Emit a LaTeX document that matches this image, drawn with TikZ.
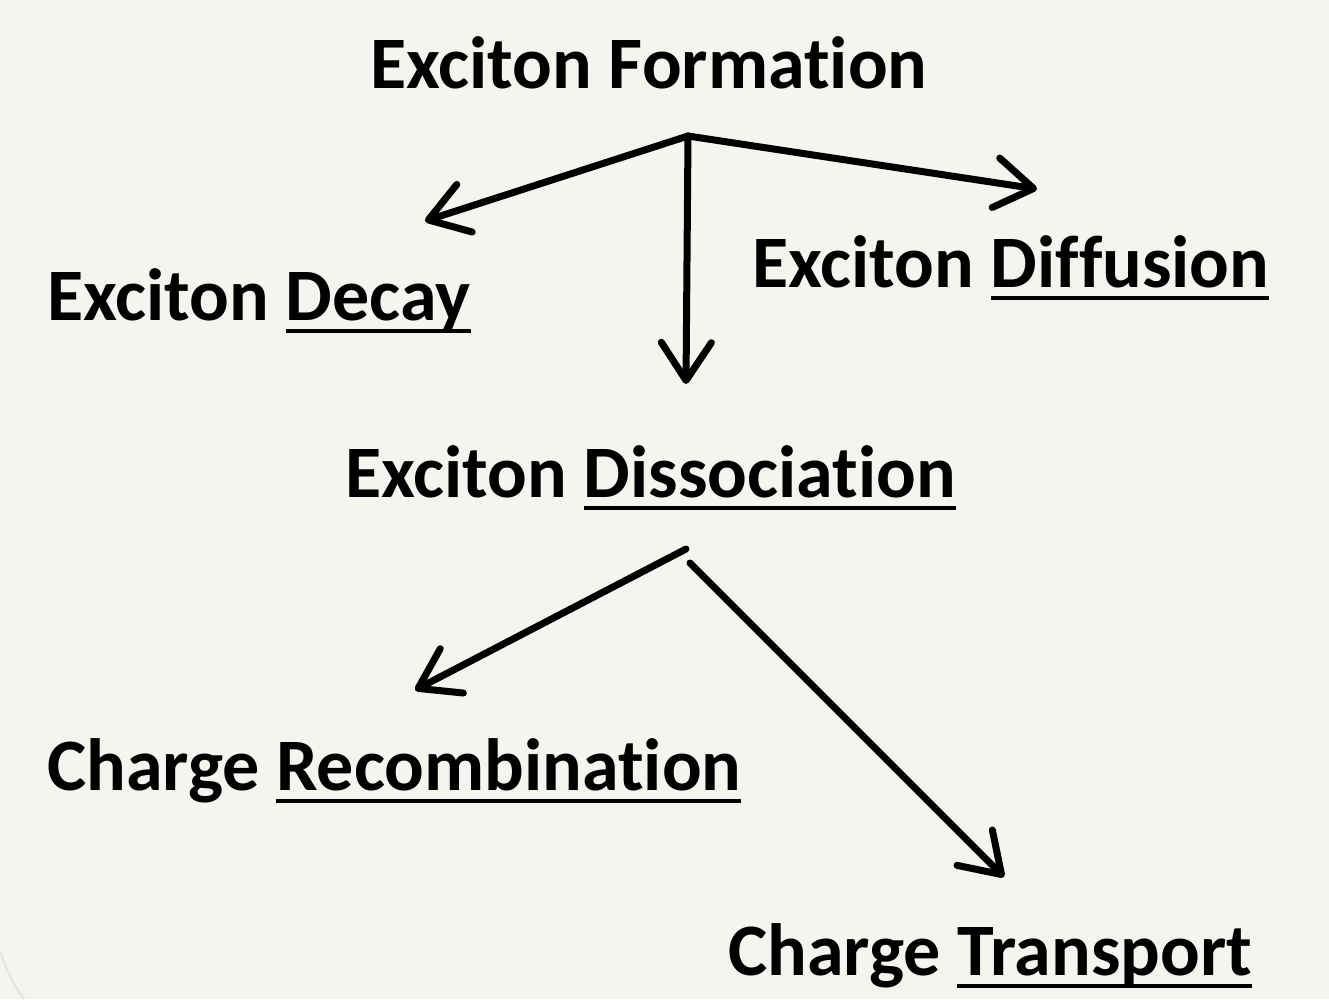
\documentclass[tikz,border=0pt]{standalone}
\usepackage{fontspec}
\setmainfont[RawFeature=-liga]{Carlito}
\newsavebox\myulbox
\newcommand\myul[1]{\sbox\myulbox{#1}\rlap{\rule[-13pt]{\wd\myulbox}{4pt}}\usebox\myulbox}
\usetikzlibrary{arrows.meta}
\definecolor{bg}{HTML}{F5F5EF}
\begin{document}
\begin{tikzpicture}[x=1pt,y=-1pt,
  lbl/.style={anchor=base west,inner sep=0pt,font=\fontsize{74}{80}\selectfont\bfseries},
  arr/.style={line width=7pt,line cap=round,-{Straight Barb[length=38pt,width=50pt,line width=7pt,round]}}]
\fill[bg] (0,0) rectangle (1329,999);
\useasboundingbox (0,0) rectangle (1329,999);
\draw[black!10,line width=2.5pt] (0,952) .. controls (8,972) and (14,986) .. (24,999);
\node[lbl] (form) at (370,88) {Exciton Formation};
\node[lbl] (decay) at (47,320) {Exciton \myul{Decay}};
\node[lbl] (diff) at (752,287) {Exciton \myul{Diffusion}};
\node[lbl] (diss) at (345,497) {Exciton \myul{Dissociation}};
\node[lbl] (rec) at (47,790) {Charge \myul{Recombination}};
\node[lbl] (trans) at (728,975) {Charge \myul{Transport}};
\coordinate (top) at (688,136);
\coordinate (bot) at (686,549);
\coordinate (bot2) at (690,563);
\draw[arr] (top) -- (425,221);
\draw[arr] (top) -- (1037,189);
\draw[arr] (top) -- (686,384);
\draw[arr] (bot) -- (415,690);
\draw[arr] (bot2) -- (1004,877);
\end{tikzpicture}
\end{document}
